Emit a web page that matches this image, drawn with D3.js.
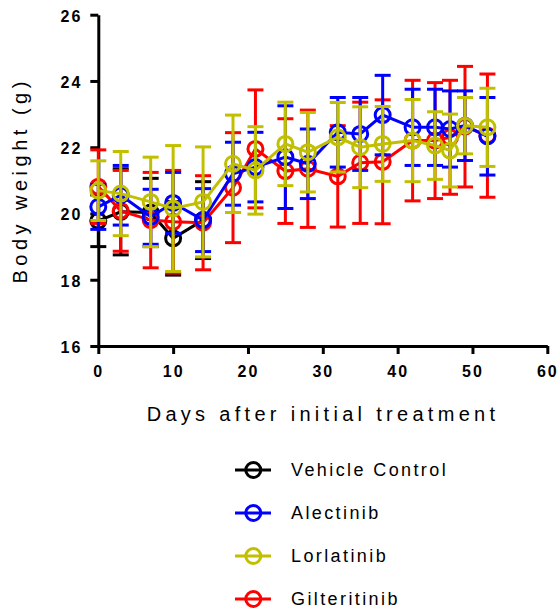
<!DOCTYPE html>
<html>
<head>
<meta charset="utf-8">
<script src="https://cdn.jsdelivr.net/npm/d3@7"></script>
<style>
body { margin: 0; background: #fff; }
svg { display: block; font-family: "Liberation Sans", Arial, sans-serif; }
</style>
</head>
<body>
<svg id="chart" width="560" height="612"></svg>
<script>
// body weight data (mean, error)
const days = [0, 3, 7, 10, 14, 18, 21, 25, 28, 32, 35, 38, 42, 45, 47, 49, 52];
const vehicleDays = [0, 3, 7, 10, 14];

const vehicleMean = [19.78, 20.05, 20.03, 19.25, 19.8];
const vehicleErr  = [0.78, 1.3, 1.03, 1.11, 1.16];

const alectinibMean = [20.2, 20.55, 19.9, 20.32, 19.8, 21.2, 21.4, 21.7, 21.5, 22.45, 22.4, 22.97, 22.6, 22.6, 22.55, 22.65, 22.33];
const alectinibErr  = [0.68, 0.9, 0.83, 0.92, 0.95, 0.95, 1.05, 1.55, 1.05, 1.05, 1.1, 1.2, 1.15, 1.15, 1.15, 1.05, 1.17];

const lorlatinibMean = [20.69, 20.6, 20.35, 20.15, 20.35, 21.5, 21.3, 22.1, 21.85, 22.3, 22.0, 22.1, 22.2, 22.05, 21.9, 22.65, 22.6];
const lorlatinibErr  = [0.9, 1.27, 1.35, 1.9, 1.66, 1.47, 1.32, 1.26, 1.2, 1.05, 1.22, 1.13, 1.24, 1.02, 1.1, 0.85, 1.18];

const gilteritinibMean = [20.81, 20.08, 19.8, 19.75, 19.72, 20.78, 21.95, 21.28, 21.35, 21.12, 21.53, 21.56, 22.2, 22.2, 22.3, 22.62, 22.35];
const gilteritinibErr  = [1.11, 1.22, 1.44, 1.55, 1.42, 1.66, 1.78, 1.58, 1.77, 1.53, 1.83, 1.87, 1.82, 1.75, 1.72, 1.82, 1.86];

const xTicks = [0, 10, 20, 30, 40, 50, 60];
const yTicks = [16, 18, 20, 22, 24, 26];

const series = [
  { name: 'Vehicle Control', color: '#000000', x: vehicleDays, mean: vehicleMean, err: vehicleErr },
  { name: 'Gilteritinib', color: '#ff0000', x: days, mean: gilteritinibMean, err: gilteritinibErr },
  { name: 'Alectinib', color: '#0000ff', x: days, mean: alectinibMean, err: alectinibErr },
  { name: 'Lorlatinib', color: '#c0c000', x: days, mean: lorlatinibMean, err: lorlatinibErr }
];
const legendOrder = ['Vehicle Control', 'Alectinib', 'Lorlatinib', 'Gilteritinib'];

const svg = d3.select('#chart');
const x = d3.scaleLinear().domain([0, 60]).range([98.3, 547.3]);
const y = d3.scaleLinear().domain([16, 26]).range([346, 14.7]);

// axes
const xAxis = svg.append('g').attr('transform', `translate(0,${y(16)})`)
  .call(d3.axisBottom(x).tickValues(xTicks).tickSize(8).tickPadding(12).tickSizeOuter(0));
const yAxis = svg.append('g').attr('transform', `translate(${x(0)},0)`)
  .call(d3.axisLeft(y).tickValues(yTicks).tickSize(8).tickPadding(8).tickSizeOuter(0));

[xAxis, yAxis].forEach(a => {
  a.select('.domain').attr('stroke', '#000').attr('stroke-width', 3);
  a.selectAll('.tick line').attr('stroke', '#000').attr('stroke-width', 3);
  a.selectAll('.tick text').attr('fill', '#000').style('font-size', '16px')
    .style('font-weight', 'bold').style('letter-spacing', '2px');
});
yAxis.selectAll('.tick text').attr('dy', '0.4em');

svg.append('text')
  .attr('x', 323).attr('y', 421)
  .attr('text-anchor', 'middle')
  .style('font-size', '20px').style('letter-spacing', '4.3px')
  .text('Days after initial treatment');

svg.append('text')
  .attr('transform', `translate(27,${(y(16) + y(26)) / 2}) rotate(-90)`)
  .attr('text-anchor', 'middle')
  .style('font-size', '20px').style('letter-spacing', '4.5px')
  .text('Body weight (g)');

// series
const capW = 8;
series.forEach(s => {
  const pts = s.x.map((d, i) => ({ d, m: s.mean[i], e: s.err[i] }));
  const g = svg.append('g').attr('class', 'series');

  const eb = g.selectAll('g.eb').data(pts).enter().append('g').attr('class', 'eb')
    .attr('stroke', s.color).attr('stroke-width', 3);
  eb.append('line')
    .attr('x1', p => x(p.d)).attr('x2', p => x(p.d))
    .attr('y1', p => y(p.m - p.e)).attr('y2', p => y(p.m + p.e));
  eb.append('line')
    .attr('x1', p => x(p.d) - capW).attr('x2', p => x(p.d) + capW)
    .attr('y1', p => y(p.m + p.e)).attr('y2', p => y(p.m + p.e));
  eb.append('line')
    .attr('x1', p => x(p.d) - capW).attr('x2', p => x(p.d) + capW)
    .attr('y1', p => y(p.m - p.e)).attr('y2', p => y(p.m - p.e));

  g.append('path').datum(pts)
    .attr('fill', 'none').attr('stroke', s.color).attr('stroke-width', 3)
    .attr('d', d3.line().x(p => x(p.d)).y(p => y(p.m)));

  g.selectAll('circle').data(pts).enter().append('circle')
    .attr('cx', p => x(p.d)).attr('cy', p => y(p.m)).attr('r', 7.5)
    .attr('fill', 'none').attr('stroke', s.color).attr('stroke-width', 3);
});

// legend
const legendY = d3.scalePoint().domain(legendOrder).range([470, 599]);
const lg = svg.append('g').selectAll('g').data(legendOrder).enter().append('g')
  .attr('transform', d => `translate(0,${legendY(d)})`);
lg.each(function (name) {
  const s = series.find(t => t.name === name);
  const g = d3.select(this);
  g.append('line').attr('x1', 235).attr('x2', 271).attr('y1', 0).attr('y2', 0)
    .attr('stroke', s.color).attr('stroke-width', 3);
  g.append('circle').attr('cx', 253.3).attr('cy', 0).attr('r', 7.5)
    .attr('fill', 'none').attr('stroke', s.color).attr('stroke-width', 3);
  g.append('text').attr('x', 291).attr('y', 0).attr('dy', '0.36em')
    .style('font-size', '18px').style('letter-spacing', '2.4px')
    .text(name);
});
</script>
</body>
</html>
